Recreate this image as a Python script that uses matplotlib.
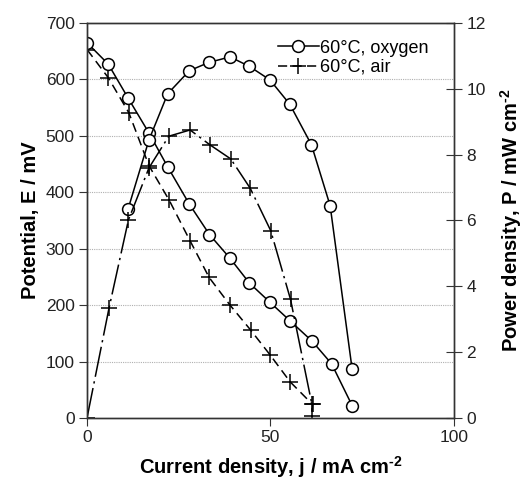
import numpy as np
import matplotlib
matplotlib.use('Agg')
import matplotlib.pyplot as plt

plt.rcParams['font.family'] = ['Liberation Sans', 'DejaVu Sans']
plt.rcParams['mathtext.fontset'] = 'custom'
plt.rcParams['mathtext.rm'] = 'Liberation Sans'
plt.rcParams['mathtext.bf'] = 'Liberation Sans:bold'

# Oxygen, 60 C: polarisation (mV) and power density (mW cm-2)
j_o2_E = [0, 5.8, 11.2, 16.9, 22.0, 27.9, 33.4, 39.0, 44.3, 49.9, 55.4, 61.4, 66.7, 72.3]
E_o2 = [665, 627, 567, 505, 445, 379, 325, 283, 239, 205, 172, 136, 96, 22]
j_o2_P = [11.2, 16.9, 22.0, 27.9, 33.2, 39.0, 44.3, 49.9, 55.3, 61.2, 66.3, 72.3]
P_o2 = [6.35, 8.45, 9.85, 10.55, 10.8, 10.97, 10.68, 10.27, 9.53, 8.3, 6.45, 1.48]

# Air, 60 C
j_air_E = [0, 5.8, 11.4, 16.9, 22.4, 28.1, 33.3, 39.0, 44.6, 49.9, 55.4, 61.5, 61.3]
E_air = [653, 603, 541, 447, 386, 314, 249, 200, 156, 112, 64, 24, 4]
j_air_P = [0, 6.0, 11.3, 16.9, 22.3, 28.1, 33.5, 39.2, 44.5, 50.1, 55.5, 61.3]
P_air = [0, 3.34, 6.02, 7.6, 8.56, 8.75, 8.3, 7.87, 6.98, 5.69, 3.6, 0.43]

fig = plt.figure(figsize=(5.29, 4.84), dpi=100)
ax = fig.add_axes([0.1645, 0.1364, 0.6932, 0.8161])
ax2 = ax.twinx()

mk_o = dict(marker='o', markersize=8.5, markerfacecolor='white', markeredgecolor='black',
            markeredgewidth=1.1, color='black', lw=1.1)
mk_p = dict(marker='+', markersize=11, markeredgewidth=1.1, color='black', lw=1.1)

l1, = ax.plot(j_o2_E, E_o2, '-', label='60\u00b0C, oxygen', **mk_o)
l2, = ax.plot(j_air_E, E_air, ls=(0, (6, 3.5)), label='60\u00b0C, air', **mk_p)
ax2.plot(j_o2_P, P_o2, '-', **mk_o)
ax2.plot(j_air_P, P_air, ls=(0, (20, 3, 1.5, 3)), **mk_p)

ax.set_xlim(0, 100)
ax.set_ylim(0, 700)
ax2.set_ylim(0, 12)
ax.set_xticks([0, 50, 100])
ax.set_yticks(range(0, 701, 100))
ax2.set_yticks(range(0, 13, 2))

for y in range(100, 700, 100):
    ax.axhline(y, color='#b0b0b0', lw=0.8, ls=(0, (1, 1)), zorder=0)

for a in (ax, ax2):
    for s in a.spines.values():
        s.set_color('#333333')
        s.set_linewidth(1.0)
ax.tick_params(axis='both', labelsize=12.5, direction='out', length=6, color='#333333',
               labelcolor='#222222', pad=3)
ax2.tick_params(axis='y', labelsize=12.5, direction='inout', length=12, color='#333333',
                labelcolor='#222222', pad=3)

lab = dict(fontsize=14.5, fontweight='bold')
ax.set_xlabel('Current density, j / mA cm$^{\\mathbf{\u20102}}$', labelpad=6, **lab)
ax.set_ylabel('Potential, E / mV', labelpad=4, **lab)
ax2.set_ylabel('Power density, P / mW cm$^{\\mathbf{\u20102}}$', labelpad=9, **lab)

ax.legend(handles=[l1, l2], loc='upper left', bbox_to_anchor=(0.49, 0.985), frameon=False,
          fontsize=13, handlelength=2.3, handletextpad=0.05, labelspacing=0.12, borderaxespad=0.2)

fig.savefig('out.png', dpi=100)
